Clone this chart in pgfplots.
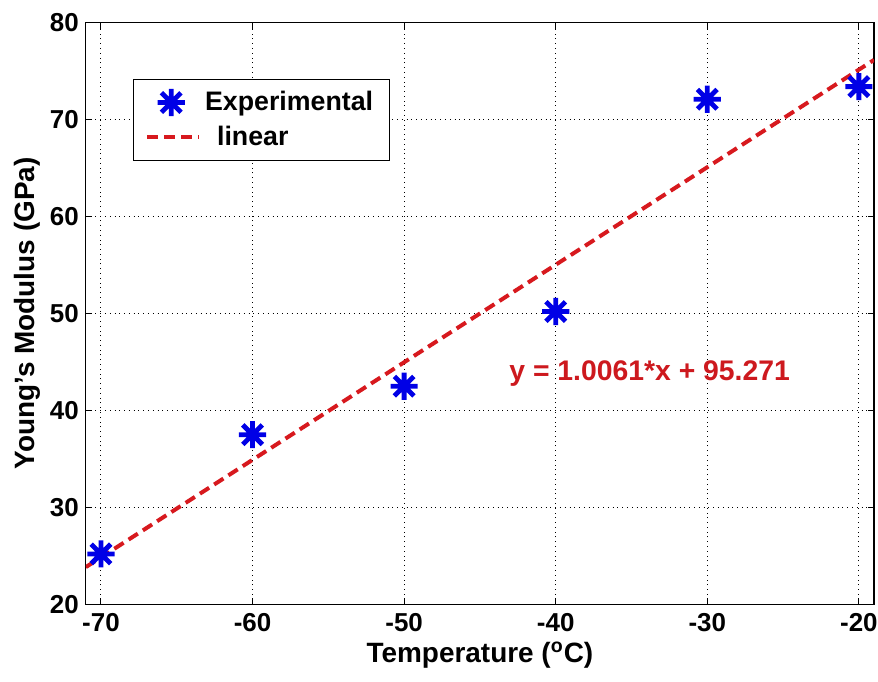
\documentclass[border=0pt]{standalone}
\usepackage{fontspec}
\setmainfont{Liberation Sans}
\usepackage{pgfplots}
\pgfplotsset{compat=1.18}
\usetikzlibrary{calc}

\definecolor{expblue}{RGB}{0,0,230}
\definecolor{fitred}{RGB}{215,25,30}
\definecolor{eqred}{RGB}{205,25,30}

% eight-armed asterisk
\pgfdeclareplotmark{star8}{%
  \pgfpathmoveto{\pgfqpoint{-\pgfplotmarksize}{0pt}}%
  \pgfpathlineto{\pgfqpoint{\pgfplotmarksize}{0pt}}%
  \pgfpathmoveto{\pgfqpoint{0pt}{-\pgfplotmarksize}}%
  \pgfpathlineto{\pgfqpoint{0pt}{\pgfplotmarksize}}%
  \pgfpathmoveto{\pgfqpoint{-0.72\pgfplotmarksize}{-0.72\pgfplotmarksize}}%
  \pgfpathlineto{\pgfqpoint{0.72\pgfplotmarksize}{0.72\pgfplotmarksize}}%
  \pgfpathmoveto{\pgfqpoint{-0.72\pgfplotmarksize}{0.72\pgfplotmarksize}}%
  \pgfpathlineto{\pgfqpoint{0.72\pgfplotmarksize}{-0.72\pgfplotmarksize}}%
  \pgfusepathqstroke
}

\pgfplotsset{
  fitline legend/.style={legend image code/.code={\draw[##1] (0pt,0pt) -- (26pt,0pt);}},
  star legend/.style={legend image code/.code={\draw[##1] plot coordinates {(12pt,0pt)};}},
}

\begin{document}
\begin{tikzpicture}
\begin{axis}[
  scale only axis,
  width=395pt, height=291.5pt,
  xmin=-71, xmax=-19,
  ymin=20, ymax=80,
  xtick={-70,-60,-50,-40,-30,-20},
  ytick={20,30,40,50,60,70,80},
  tick align=inside,
  major tick length=3pt,
  tick style={black, line width=0.5pt},
  axis line style={black, line width=0.6pt},
  grid=major,
  major grid style={black, dotted, line width=0.5pt},
  /pgf/number format/assume math mode=true,
  ticklabel style={font=\fontsize{13}{15}\selectfont\bfseries},
  xticklabel style={yshift=-1pt},
  label style={font=\fontsize{14}{16}\selectfont\bfseries},
  xlabel={Temperature (\textsuperscript{o}C)},
  ylabel={Young's Modulus (GPa)},
  xlabel style={yshift=2pt},
  ylabel style={yshift=-2pt},
  legend style={
    at={(axis cs:-67.9,74.2)}, anchor=north west,
    draw=black, line width=0.5pt,
    font=\fontsize{13.4}{15}\selectfont\bfseries,
    inner xsep=6pt, inner ysep=4pt,
    row sep=2pt,
    legend cell align=left,
  },
]
  \coordinate (bl) at (rel axis cs:0,0);
  \coordinate (tr) at (rel axis cs:1,1);

  % measured moduli
  \addplot[only marks, mark=star8, mark size=6.8pt,
    mark options={expblue, line width=2.4pt}, star legend]
    coordinates {
      (-70,25.2) (-60,37.5) (-50,42.5) (-40,50.2) (-30,72.1) (-20,73.4)
    };
  \addlegendentry{Experimental}

  % least-squares line y = 1.0061 x + 95.271
  \addplot[fitred, line width=2pt, dash pattern=on 5.5pt off 3pt, fitline legend]
    coordinates {(-71,23.838) (-19,76.155)};
  \addlegendentry{\hspace{6pt}linear}

  \node[text=eqred, font=\fontsize{14.2}{16}\selectfont\bfseries]
    at (axis cs:-33.8,43.8) {y = 1.0061*x + 95.271};
\end{axis}
\pgfresetboundingbox
\path ($(bl)+(-43pt,-38.5pt)$) rectangle ($(tr)+(2pt,11.35pt)$);
\end{tikzpicture}
\end{document}
